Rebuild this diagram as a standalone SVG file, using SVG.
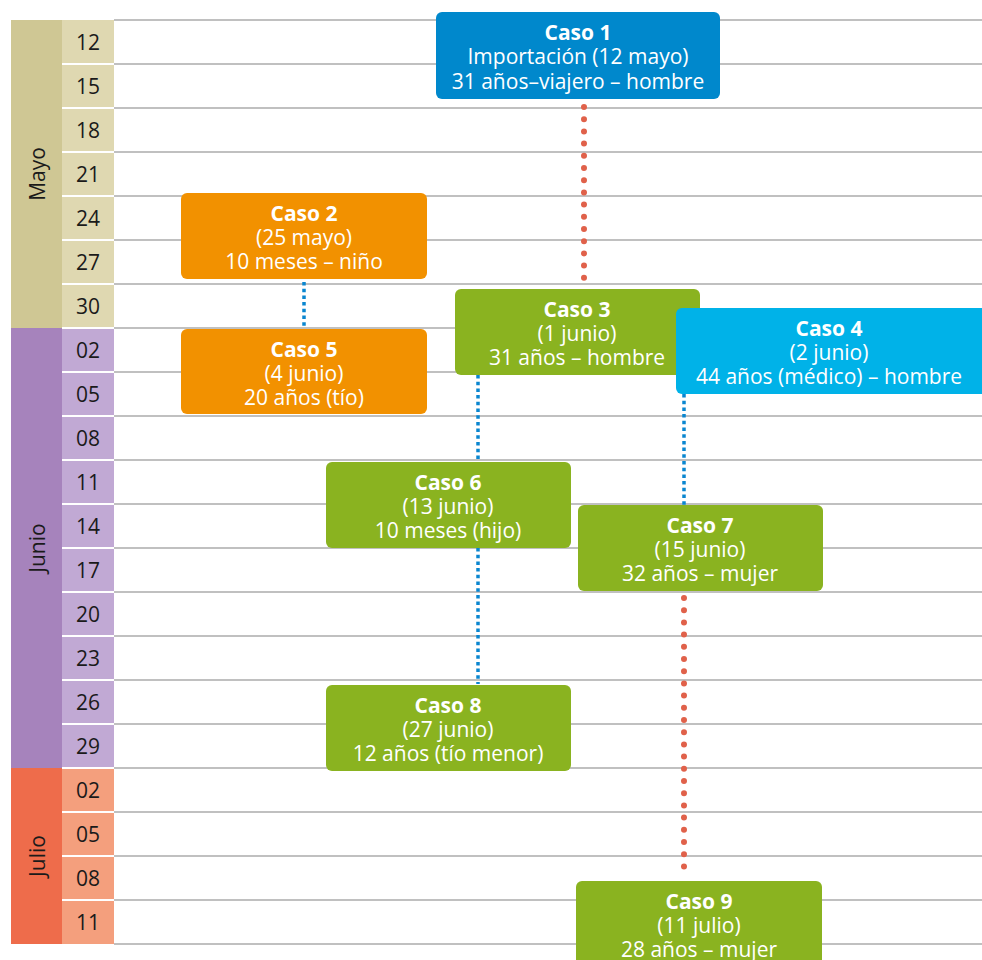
<svg xmlns="http://www.w3.org/2000/svg" width="982" height="960" viewBox="0 0 982 960">
<style>
.grid{stroke:#ababab;stroke-width:1.5}
.sep{stroke:#ffffff;stroke-width:2}
.day{font-family:"Open Sans","Liberation Sans",sans-serif;font-size:21px;fill:#1a1a1a;text-anchor:middle}
.month{font-family:"Open Sans","Liberation Sans",sans-serif;font-size:21px;fill:#1a1a1a;text-anchor:middle}
.t{font-family:"Open Sans","Liberation Sans",sans-serif;font-size:21px;fill:#ffffff;text-anchor:middle}
.b{font-weight:bold}
.blue{stroke:#0a86d0;stroke-width:3.5;stroke-dasharray:3.5 3.2;fill:none}
.red{stroke:#e0614a;stroke-width:6;stroke-linecap:round;stroke-dasharray:0 12.2;fill:none}
</style>
<rect width="982" height="960" fill="#ffffff"/>
<g id="grid">
<line class="grid" x1="114" y1="20" x2="982" y2="20"/>
<line class="grid" x1="114" y1="64" x2="982" y2="64"/>
<line class="grid" x1="114" y1="108" x2="982" y2="108"/>
<line class="grid" x1="114" y1="152" x2="982" y2="152"/>
<line class="grid" x1="114" y1="196" x2="982" y2="196"/>
<line class="grid" x1="114" y1="240" x2="982" y2="240"/>
<line class="grid" x1="114" y1="284" x2="982" y2="284"/>
<line class="grid" x1="114" y1="328" x2="982" y2="328"/>
<line class="grid" x1="114" y1="372" x2="982" y2="372"/>
<line class="grid" x1="114" y1="416" x2="982" y2="416"/>
<line class="grid" x1="114" y1="460" x2="982" y2="460"/>
<line class="grid" x1="114" y1="504" x2="982" y2="504"/>
<line class="grid" x1="114" y1="548" x2="982" y2="548"/>
<line class="grid" x1="114" y1="592" x2="982" y2="592"/>
<line class="grid" x1="114" y1="636" x2="982" y2="636"/>
<line class="grid" x1="114" y1="680" x2="982" y2="680"/>
<line class="grid" x1="114" y1="724" x2="982" y2="724"/>
<line class="grid" x1="114" y1="768" x2="982" y2="768"/>
<line class="grid" x1="114" y1="812" x2="982" y2="812"/>
<line class="grid" x1="114" y1="856" x2="982" y2="856"/>
<line class="grid" x1="114" y1="900" x2="982" y2="900"/>
<line class="grid" x1="114" y1="944" x2="982" y2="944"/>
</g>
<g id="mayo">
<rect x="11" y="20" width="51" height="308" fill="#cfc794"/>
<rect x="62" y="20" width="52" height="308" fill="#dfd8b1"/>
<text class="month" transform="translate(45,174) rotate(-90)">Mayo</text>
</g>
<g id="junio">
<rect x="11" y="328" width="51" height="440" fill="#a683bc"/>
<rect x="62" y="328" width="52" height="440" fill="#c1a9d4"/>
<text class="month" transform="translate(45,548) rotate(-90)">Junio</text>
</g>
<g id="julio">
<rect x="11" y="768" width="51" height="176" fill="#ee6c4b"/>
<rect x="62" y="768" width="52" height="176" fill="#f49f7d"/>
<text class="month" transform="translate(45,856) rotate(-90)">Julio</text>
</g>
<g id="day-separators">
<line class="sep" x1="62" y1="64" x2="114" y2="64"/>
<line class="sep" x1="62" y1="108" x2="114" y2="108"/>
<line class="sep" x1="62" y1="152" x2="114" y2="152"/>
<line class="sep" x1="62" y1="196" x2="114" y2="196"/>
<line class="sep" x1="62" y1="240" x2="114" y2="240"/>
<line class="sep" x1="62" y1="284" x2="114" y2="284"/>
<line class="sep" x1="62" y1="328" x2="114" y2="328"/>
<line class="sep" x1="62" y1="372" x2="114" y2="372"/>
<line class="sep" x1="62" y1="416" x2="114" y2="416"/>
<line class="sep" x1="62" y1="460" x2="114" y2="460"/>
<line class="sep" x1="62" y1="504" x2="114" y2="504"/>
<line class="sep" x1="62" y1="548" x2="114" y2="548"/>
<line class="sep" x1="62" y1="592" x2="114" y2="592"/>
<line class="sep" x1="62" y1="636" x2="114" y2="636"/>
<line class="sep" x1="62" y1="680" x2="114" y2="680"/>
<line class="sep" x1="62" y1="724" x2="114" y2="724"/>
<line class="sep" x1="62" y1="768" x2="114" y2="768"/>
<line class="sep" x1="62" y1="812" x2="114" y2="812"/>
<line class="sep" x1="62" y1="856" x2="114" y2="856"/>
<line class="sep" x1="62" y1="900" x2="114" y2="900"/>
</g>
<g id="days">
<text class="day" x="88" y="50">12</text>
<text class="day" x="88" y="94">15</text>
<text class="day" x="88" y="138">18</text>
<text class="day" x="88" y="182">21</text>
<text class="day" x="88" y="226">24</text>
<text class="day" x="88" y="270">27</text>
<text class="day" x="88" y="314">30</text>
<text class="day" x="88" y="358">02</text>
<text class="day" x="88" y="402">05</text>
<text class="day" x="88" y="446">08</text>
<text class="day" x="88" y="490">11</text>
<text class="day" x="88" y="534">14</text>
<text class="day" x="88" y="578">17</text>
<text class="day" x="88" y="622">20</text>
<text class="day" x="88" y="666">23</text>
<text class="day" x="88" y="710">26</text>
<text class="day" x="88" y="754">29</text>
<text class="day" x="88" y="798">02</text>
<text class="day" x="88" y="842">05</text>
<text class="day" x="88" y="886">08</text>
<text class="day" x="88" y="930">11</text>
</g>
<g id="connectors">
<line class="red" x1="584" y1="107" x2="584" y2="284"/>
<line class="blue" x1="304" y1="282" x2="304" y2="328"/>
<line class="blue" x1="478" y1="375" x2="478" y2="461"/>
<line class="blue" x1="478" y1="548" x2="478" y2="684"/>
<line class="blue" x1="684" y1="394" x2="684" y2="505"/>
<line class="red" x1="684" y1="598" x2="684" y2="872"/>
</g>
<g id="caso1">
<rect x="436" y="12" width="284" height="87" rx="6" fill="#0088cc"/>
<text class="t b" x="578" y="40">Caso 1</text>
<text class="t" x="578" y="64">Importación (12 mayo)</text>
<text class="t" x="578" y="89">31 años–viajero – hombre</text>
</g>
<g id="caso2">
<rect x="181" y="193" width="246" height="86" rx="6" fill="#f29100"/>
<text class="t b" x="304" y="221">Caso 2</text>
<text class="t" x="304" y="245">(25 mayo)</text>
<text class="t" x="304" y="269">10 meses – niño</text>
</g>
<g id="caso5">
<rect x="181" y="329" width="246" height="85" rx="6" fill="#f29100"/>
<text class="t b" x="304" y="357">Caso 5</text>
<text class="t" x="304" y="381">(4 junio)</text>
<text class="t" x="304" y="405">20 años (tío)</text>
</g>
<g id="caso3">
<rect x="455" y="289" width="245" height="86" rx="6" fill="#8ab320"/>
<text class="t b" x="577" y="317">Caso 3</text>
<text class="t" x="577" y="341">(1 junio)</text>
<text class="t" x="577" y="365">31 años – hombre</text>
</g>
<g id="caso4">
<rect x="676" y="308" width="312" height="86" rx="6" fill="#00b2e8"/>
<text class="t b" x="829" y="336">Caso 4</text>
<text class="t" x="829" y="360">(2 junio)</text>
<text class="t" x="829" y="384">44 años (médico) – hombre</text>
</g>
<g id="caso6">
<rect x="326" y="462" width="245" height="86" rx="6" fill="#8ab320"/>
<text class="t b" x="448" y="490">Caso 6</text>
<text class="t" x="448" y="514">(13 junio)</text>
<text class="t" x="448" y="538">10 meses (hijo)</text>
</g>
<g id="caso7">
<rect x="578" y="505" width="245" height="86" rx="6" fill="#8ab320"/>
<text class="t b" x="700" y="533">Caso 7</text>
<text class="t" x="700" y="557">(15 junio)</text>
<text class="t" x="700" y="581">32 años – mujer</text>
</g>
<g id="caso8">
<rect x="326" y="685" width="245" height="86" rx="6" fill="#8ab320"/>
<text class="t b" x="448" y="713">Caso 8</text>
<text class="t" x="448" y="737">(27 junio)</text>
<text class="t" x="448" y="761">12 años (tío menor)</text>
</g>
<g id="caso9">
<rect x="576" y="881" width="246" height="90" rx="6" fill="#8ab320"/>
<text class="t b" x="699" y="909">Caso 9</text>
<text class="t" x="699" y="933">(11 julio)</text>
<text class="t" x="699" y="957">28 años – mujer</text>
</g>
</svg>
